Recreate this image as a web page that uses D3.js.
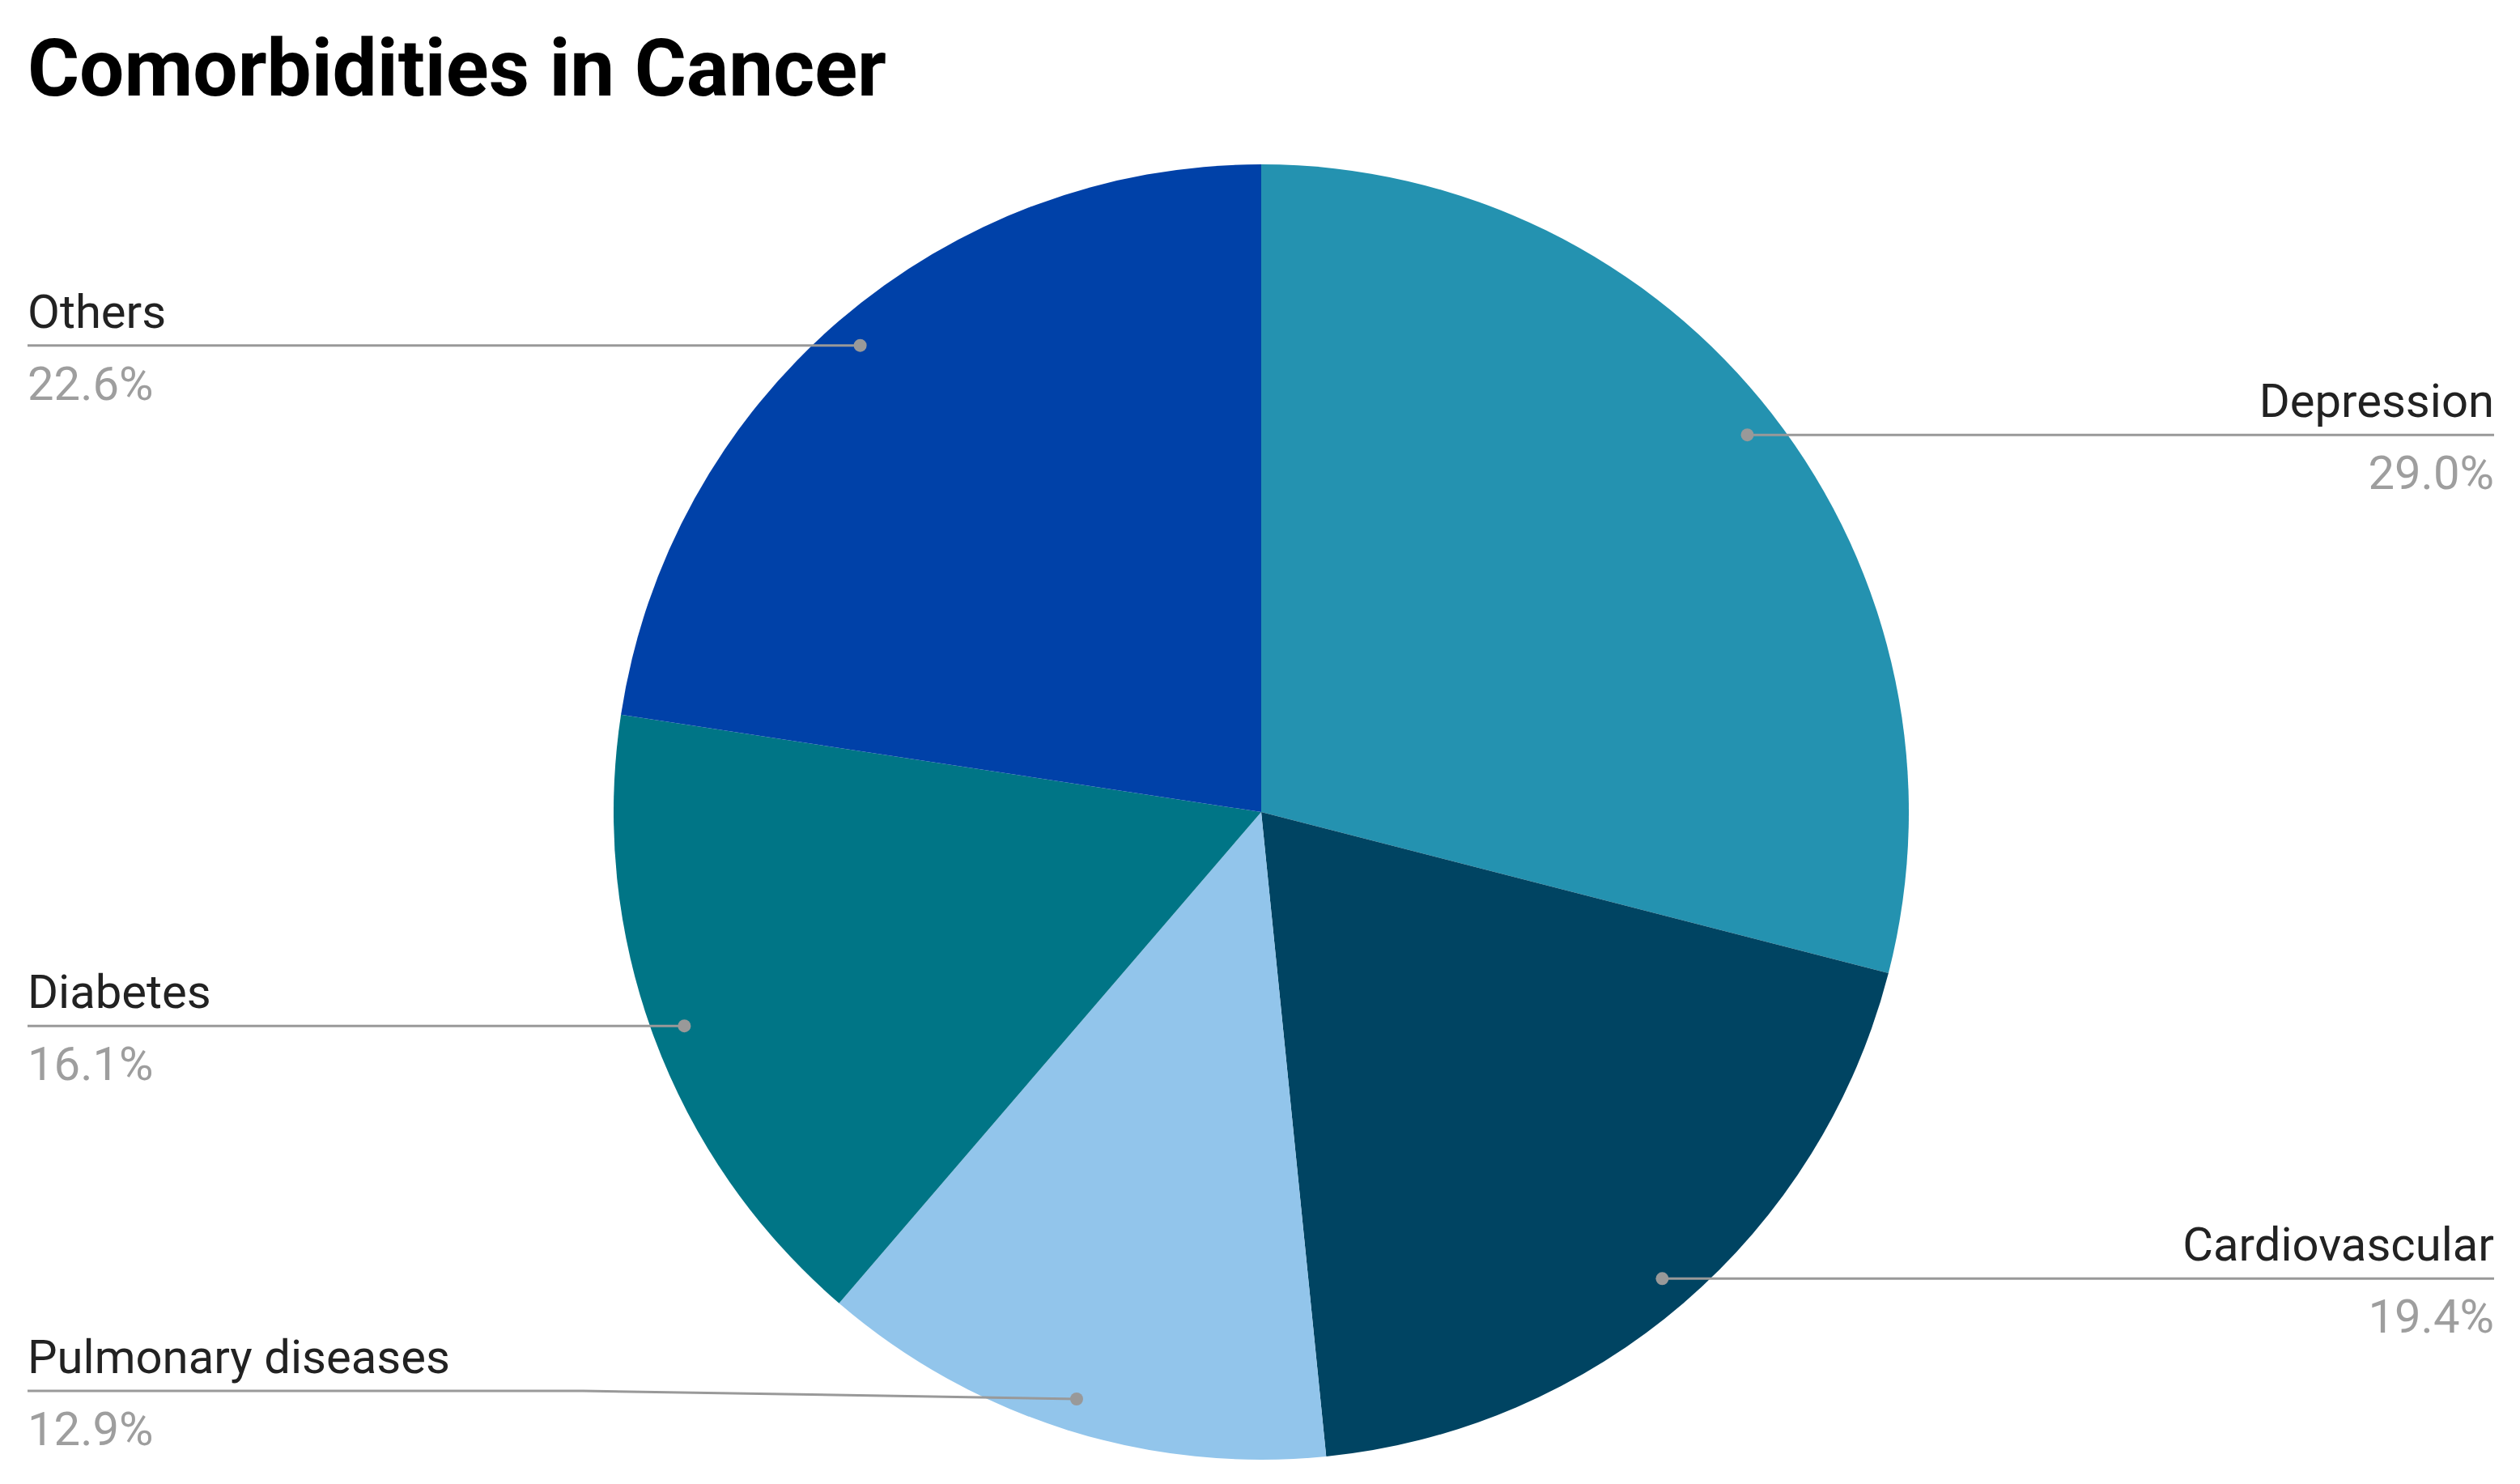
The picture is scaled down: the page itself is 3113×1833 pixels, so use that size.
<!DOCTYPE html>
<html><head><meta charset="utf-8">
<script src="https://cdn.jsdelivr.net/npm/d3@7"></script>
<style>body{margin:0;background:#fff}</style></head>
<body><svg id="c" width="3113" height="1833"></svg>
<script>
const categories = ["Depression","Cardiovascular","Pulmonary diseases","Diabetes","Others"];
const values = [29.0, 19.4, 12.9, 16.1, 22.6];
const colors = ["#2492b0","#004462","#92c5eb","#007586","#0041a8"];
const labels = ["29.0%","19.4%","12.9%","16.1%","22.6%"];

const svg = d3.select("#c");
const cx = 1558, cy = 1003, r = 800;
svg.append("text").attr("x",34).attr("y",118).attr("font-family","Roboto, Arial, sans-serif")
  .attr("font-weight","bold").attr("font-size",98).attr("fill","#000").text("Comorbidities in Cancer");

const pie = d3.pie().sort(null).value(d=>d)(values);
const arc = d3.arc().innerRadius(0).outerRadius(r);
const g = svg.append("g").attr("transform",`translate(${cx},${cy})`);
g.selectAll("path").data(pie).join("path").attr("d",arc).attr("fill",(d,i)=>colors[i]);

const dotArc = d3.arc().innerRadius(r*0.95).outerRadius(r*0.95);
pie.forEach((d,i)=>{
  const [px,py] = dotArc.centroid(d);
  const x = cx+px, y = cy+py;
  const right = x > cx;
  const edge = right ? 3081 : 34;
  const ly = categories[i]==="Pulmonary diseases" ? y-10 : y;
  const bend = right ? x+60 : (categories[i]==="Pulmonary diseases" ? 720 : x-60);
  svg.append("path").attr("d",`M${x},${y}L${bend},${ly}L${edge},${ly}`)
    .attr("fill","none").attr("stroke","#999").attr("stroke-width",3);
  svg.append("circle").attr("cx",x).attr("cy",y).attr("r",8).attr("fill","#999");
  svg.append("text").attr("x",edge).attr("y",ly-22).attr("text-anchor",right?"end":"start")
    .attr("font-family","Roboto, Arial, sans-serif").attr("font-size",58).attr("fill","#222").text(categories[i]);
  svg.append("text").attr("x",edge).attr("y",ly+67).attr("text-anchor",right?"end":"start")
    .attr("font-family","Roboto, Arial, sans-serif").attr("font-size",58).attr("fill","#9e9e9e").text(labels[i]);
});
</script></body></html>
